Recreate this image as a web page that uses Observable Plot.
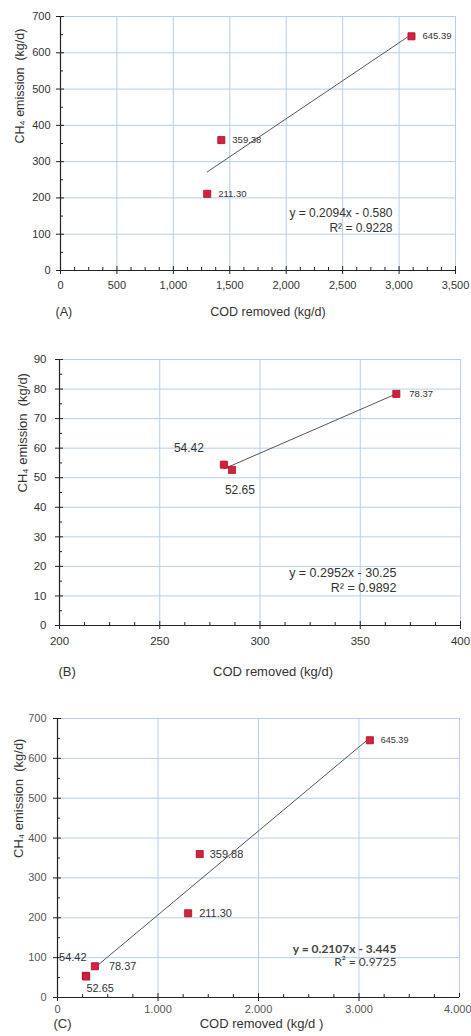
<!DOCTYPE html>
<html>
<head>
<meta charset="utf-8">
<script src="https://cdn.jsdelivr.net/npm/d3@7"></script>
<script src="https://cdn.jsdelivr.net/npm/@observablehq/plot@0.6"></script>
<style>
  html, body { margin: 0; padding: 0; background: #fff; width: 471px; }
  svg { display: block; }
</style>
</head>
<body>
<div id="chart"></div>
<script>
// ---------- data ----------
// Panel A
const codA = [1300, 1425, 3110];
const ch4A = [211.30, 359.38, 645.39];
const labelsA = ["211.30", "359.38", "645.39"];
const trendA_x = [1300, 3110];
const slopeA = 0.2094, interceptA = -0.580;
const eqA = "y = 0.2094x - 0.580";
const r2A = "R² = 0.9228";

// Panel B
const codB = [282, 286, 368];
const ch4B = [54.42, 52.65, 78.37];
const labelsB = ["54.42", "52.65", "78.37"];
const trendB_x = [282, 368];
const slopeB = 0.2952, interceptB = -30.25;
const eqB = "y = 0.2952x - 30.25";
const r2B = "R² = 0.9892";

// Panel C
const codC = [282, 285, 372, 1300, 1415, 3108];
const ch4C = [54.42, 52.65, 78.37, 211.30, 359.88, 645.39];
const labelsC = ["54.42", "52.65", "78.37", "211.30", "359.88", "645.39"];
const trendC_x = [372, 3108];
const slopeC = 0.2107, interceptC = -3.445;
const eqC = "y = 0.2107x - 3.445";
const r2C = "R² = 0.9725";

// ticks
const xTicksA = [0, 500, 1000, 1500, 2000, 2500, 3000, 3500];
const yTicksA = [0, 100, 200, 300, 400, 500, 600, 700];
const xTicksB = [200, 250, 300, 350, 400];
const yTicksB = [0, 10, 20, 30, 40, 50, 60, 70, 80, 90];
const xTicksC = [0, 1000, 2000, 3000, 4000];
const yTicksC = [0, 100, 200, 300, 400, 500, 600, 700];

const xLabel = "COD removed (kg/d)";
const xLabelC = "COD removed (kg/d )";
const yLabel = "CH₄ emission  (kg/d)";

// ---------- drawing ----------
const gridColor = "#b5cfea";
const axisColor = "#222";
const textColor = "#333";
const markerFill = "#d8203e";
const markerStroke = "#9c1228";

function minorTicks(lo, hi, step, majors) {
  return d3.range(lo, hi + step / 2, step).filter(v => !majors.some(m => Math.abs(m - v) < 1e-9));
}

function panel(o) {
  const pts = o.xs.map((x, i) => ({x, y: o.ys[i], label: o.labels[i]}));
  const trend = o.trendX.map(x => ({x, y: o.slope * x + o.intercept}));
  const labelMarks = pts.map((p, i) => {
    const s = o.labelStyle[i];
    return Plot.text([p], {
      x: "x", y: "y", text: "label",
      dx: s.dx, dy: s.dy || 0, textAnchor: s.anchor || "start",
      fontSize: s.size, fill: textColor, fontFamily: o.labelFont || "Liberation Sans"
    });
  });
  const xText = o.edgeLast ? o.xTicks.slice(0, -1) : o.xTicks;
  const edgeMarks = o.edgeLast ? [
    Plot.axisX({ticks: o.xTicks.slice(-1), tickSize: 4, tickPadding: o.xPad, tickFormat: o.xFormat,
                textAnchor: "end", dx: 12, fontSize: o.tickFont, color: o.tickColor || textColor, stroke: axisColor, label: null})
  ] : [];
  return Plot.plot({
    width: 471, height: o.height,
    marginTop: o.mt, marginBottom: o.mb, marginLeft: o.ml, marginRight: o.mr,
    x: {domain: o.xDomain},
    y: {domain: o.yDomain},
    style: {fontFamily: "Liberation Sans, Arial, sans-serif", background: "#fff", overflow: "visible"},
    marks: [
      Plot.ruleX(o.xTicks.filter(v => v > o.xDomain[0]), {stroke: gridColor, strokeWidth: 1}),
      Plot.ruleY(o.yTicks.filter(v => v > o.yDomain[0]), {stroke: gridColor, strokeWidth: 1}),
      Plot.ruleX([o.xDomain[0]], {stroke: axisColor, strokeWidth: 1.2}),
      Plot.ruleY([o.yDomain[0]], {stroke: axisColor, strokeWidth: 1.2}),
      Plot.axisX({ticks: xText, tickSize: 4, tickPadding: o.xPad, tickFormat: o.xFormat,
                  fontSize: o.tickFont, color: o.tickColor || textColor, stroke: axisColor, label: null}),
      ...edgeMarks,
      Plot.axisX({ticks: o.xTicks, tickSize: -4, text: null, label: null, stroke: axisColor}),
      Plot.axisX({ticks: o.xMinor, tickSize: -3, text: null, label: null, stroke: axisColor}),
      Plot.axisY({ticks: o.yTicks, tickSize: 4, tickPadding: o.yPad,
                  fontSize: o.tickFont, color: o.tickColor || textColor, stroke: axisColor, label: null}),
      Plot.axisY({ticks: o.yTicks, tickSize: -4, text: null, label: null, stroke: axisColor}),
      Plot.axisY({ticks: o.yMinor, tickSize: -3, text: null, label: null, stroke: axisColor}),
      Plot.line(trend, {x: "x", y: "y", stroke: "#555", strokeWidth: 1}),
      Plot.dot(pts, {x: "x", y: "y", symbol: "square", r: 4, fill: markerFill, stroke: markerStroke, strokeWidth: 0.8}),
      ...labelMarks,
      ...o.eqMarks,
      Plot.text([o.xTitle], {frameAnchor: "bottom", dx: o.xtDx, dy: o.xtDy, fontSize: o.titleFont, fill: textColor}),
      Plot.text([o.tag], {frameAnchor: "bottom-left", textAnchor: "start", dx: o.tagDx, dy: o.xtDy, fontSize: o.titleFont, fill: textColor}),
      Plot.text([yLabel], {frameAnchor: "left", rotate: -90, dx: o.ytDx, fontSize: o.titleFont, fill: textColor})
    ]
  });
}

const fmtComma = d3.format(",");
const fmtDot = v => d3.format(",")(v).replace(/,/g, ".");

const A = panel({
  xs: codA, ys: ch4A, labels: labelsA,
  labelStyle: [{dx: 11, size: 9.5}, {dx: 11, size: 9.5}, {dx: 11, size: 9.5}],
  trendX: trendA_x, slope: slopeA, intercept: interceptA,
  height: 330, mt: 16, mb: 60, ml: 60, mr: 16,
  xDomain: [0, 3500], yDomain: [0, 700],
  xTicks: xTicksA, yTicks: yTicksA,
  xMinor: minorTicks(0, 3500, 125, xTicksA), yMinor: minorTicks(0, 700, 50, yTicksA),
  xFormat: fmtComma, xPad: 7, yPad: 6, tickFont: 11,
  eqMarks: [
    Plot.text([eqA], {frameAnchor: "bottom-right", dx: -63, dy: -54, fontSize: 12, fill: textColor}),
    Plot.text([r2A], {frameAnchor: "bottom-right", dx: -63, dy: -39, fontSize: 12, fill: textColor})
  ],
  xTitle: xLabel, xtDx: 10, xtDy: 45, tag: "(A)", tagDx: -5, ytDx: -41, titleFont: 12.5
});

const B = panel({
  xs: codB, ys: ch4B, labels: labelsB,
  labelStyle: [{dx: -35, dy: -17, anchor: "middle", size: 12}, {dx: 8, dy: 20, anchor: "middle", size: 12}, {dx: 13, size: 9.5}],
  trendX: trendB_x, slope: slopeB, intercept: interceptB,
  height: 355, mt: 29, mb: 60, ml: 59, mr: 11,
  xDomain: [200, 400], yDomain: [0, 90],
  xTicks: xTicksB, yTicks: yTicksB,
  xMinor: minorTicks(200, 400, 12.5, xTicksB), yMinor: minorTicks(0, 90, 5, yTicksB),
  xFormat: d3.format("d"), xPad: 7, yPad: 9, tickFont: 11.5,
  eqMarks: [
    Plot.text([eqB], {frameAnchor: "bottom-right", dx: -64, dy: -49, fontSize: 12.5, fill: textColor}),
    Plot.text([r2B], {frameAnchor: "bottom-right", dx: -64, dy: -34, fontSize: 12.5, fill: textColor})
  ],
  xTitle: xLabel, xtDx: 13, xtDy: 50, tag: "(B)", tagDx: -1, ytDx: -37, titleFont: 13
});

const C = panel({
  xs: codC, ys: ch4C, labels: labelsC,
  labelStyle: [
    {dx: -13, dy: -18, anchor: "middle", size: 11},
    {dx: 14, dy: 12, anchor: "middle", size: 11},
    {dx: 14, size: 11},
    {dx: 11, size: 11},
    {dx: 10, size: 11},
    {dx: 11, size: 9}
  ],
  labelFont: "Liberation Sans Narrow, Liberation Sans",
  trendX: trendC_x, slope: slopeC, intercept: interceptC,
  height: 351, mt: 33, mb: 39, ml: 57, mr: 12,
  xDomain: [0, 4000], yDomain: [0, 700],
  xTicks: xTicksC, yTicks: yTicksC, edgeLast: true,
  xMinor: minorTicks(0, 4000, 250, xTicksC), yMinor: minorTicks(0, 700, 50, yTicksC),
  xFormat: fmtDot, xPad: 4, yPad: 7, tickFont: 11, tickColor: "#555",
  eqMarks: [
    Plot.text([eqC], {frameAnchor: "bottom-right", dx: -63, dy: -45, fontSize: 12, fontWeight: "bold", fontFamily: "Lato", fill: "#444"}),
    Plot.text([r2C], {frameAnchor: "bottom-right", dx: -63, dy: -32, fontSize: 12, fontFamily: "Lato", fill: "#444"})
  ],
  xTitle: xLabelC, xtDx: 3, xtDy: 30, tag: "(C)", tagDx: -4, ytDx: -39, titleFont: 13
});

const root = document.getElementById("chart");
root.append(A, B, C);
</script>
</body>
</html>
